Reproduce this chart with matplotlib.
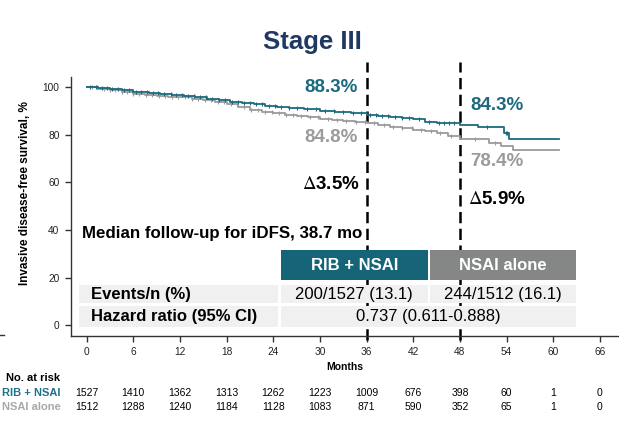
import numpy as np
import matplotlib
matplotlib.use('Agg')
import matplotlib.pyplot as plt
from matplotlib.patches import Rectangle
from matplotlib.transforms import blended_transform_factory
from matplotlib.lines import Line2D

# KM curves (months, iDFS %)
rib_t = [0, 1.5, 3, 4.5, 6, 8, 9.5, 11, 12.5, 14, 15.5, 17, 18.5, 20, 21.5, 23, 24.5, 26, 28,
         30, 32, 34, 36, 37.5, 39, 40.5, 42, 43.5, 45, 46.5, 48, 50.3, 53.7, 54.3, 60.7]
rib_s = [100, 99.6, 99.1, 98.7, 98.1, 97.5, 97.1, 96.8, 96.3, 95.8, 95.2, 94.7, 94.0, 93.3, 92.8,
         92.2, 91.7, 91.2, 90.8, 90.0, 89.6, 89.0, 88.3, 87.9, 87.4, 87.0, 86.5, 85.6, 85.0, 84.8,
         84.3, 83.2, 80.9, 78.3, 78.3]
nsai_t = [0, 1.5, 3, 4.5, 6, 7.5, 9, 10.5, 12, 13.5, 15, 16.5, 18, 19.5, 21, 22.5, 24, 25.5, 27,
          28.5, 30, 31.5, 33, 34.5, 36, 37.5, 39, 40.5, 42, 43.5, 45, 46.5, 48, 51.8, 53.3, 54.8, 60.7]
nsai_s = [100, 99.3, 98.8, 98.1, 97.3, 96.8, 96.4, 96.1, 95.7, 95.2, 94.7, 94.0, 93.0, 91.6, 90.5,
          89.6, 89.1, 88.5, 88.0, 87.5, 86.8, 86.2, 85.7, 85.2, 84.8, 84.0, 83.4, 82.8, 82.1, 81.5,
          80.7, 79.6, 78.4, 76.5, 75.3, 73.7, 73.7]

# censoring marks (months)
rib_cens = [0.5, 1.2, 2, 2.6, 3.3, 4, 4.8, 5.5, 6.3, 7, 7.8, 8.5, 9.2, 10, 10.8, 11.5, 12.3, 13,
            13.8, 14.6, 15.3, 16.1, 17, 17.8, 18.7, 19.5, 20.3, 21, 21.8, 22.6, 23.4, 24.2, 25,
            26, 27, 28.3, 29.5, 30.6, 31.8, 33, 34.2, 35.3, 36.5, 37.2, 38, 38.8, 39.6, 40.5,
            41.5, 42.7, 44, 45.3, 46, 46.6, 47.2, 51.5, 53.9, 54.1]
nsai_cens = [0.7, 1.4, 2.2, 3, 3.7, 4.5, 5.2, 6, 6.8, 7.6, 8.4, 9.3, 10.1, 11, 11.8, 12.7, 13.5,
             14.3, 15.2, 16, 16.9, 17.7, 18.6, 19.4, 20.3, 21.2, 22, 22.9, 23.8, 24.7, 25.6,
             26.6, 27.6, 28.7, 29.8, 31, 32.2, 33.4, 34.6, 35.8, 37, 38.2, 39.4, 40.6, 41.8,
             43, 44.3, 45.5, 46.8, 50, 52.5]

risk_months = [0, 6, 12, 18, 24, 30, 36, 42, 48, 54, 60, 66]
risk_rib = [1527, 1410, 1362, 1313, 1262, 1223, 1009, 676, 398, 60, 1, 0]
risk_nsai = [1512, 1288, 1240, 1184, 1128, 1083, 871, 590, 352, 65, 1, 0]

landmarks = [36, 48]
lm_rib = ['88.3%', '84.3%']
lm_nsai = ['84.8%', '78.4%']
lm_delta = [r'$\Delta$3.5%', r'$\Delta$5.9%']

arms = ['RIB + NSAI', 'NSAI alone']
events = ['200/1527 (13.1)', '244/1512 (16.1)']
hr_text = '0.737 (0.611-0.888)'

teal = '#1d6a7e'
teal_hdr = '#156478'
grey = '#9b9b9b'
grey_hdr = '#858786'
cell = '#f0f0f0'
navy = '#1f3864'

plt.rcParams['font.family'] = ['Liberation Sans', 'DejaVu Sans']
plt.rcParams['mathtext.fontset'] = 'stix'

fig = plt.figure(figsize=(6.19, 4.23), dpi=100)
ax = fig.add_axes([0.1139, 0.2064, 0.8861, 0.6116])
ax.set_xlim(-2.06, 68.45)
ax.set_ylim(-4.37, 104.3)


def step_val(t, s, c):
    i = np.searchsorted(t, c, side='right') - 1
    return np.array(s)[i]


for t, s, cens, col in [(nsai_t, nsai_s, nsai_cens, grey), (rib_t, rib_s, rib_cens, teal)]:
    ax.step(t, s, where='post', color=col, lw=1.3, zorder=3)
    ax.plot(cens, step_val(t, s, cens), ls='none', marker='|', ms=3.5, mew=0.8,
            color=col, zorder=3)

ax.vlines(landmarks, -6.2, 110.6, colors='black', lw=1.8, linestyles=(0, (4.5, 2.2)),
          clip_on=False, zorder=2)

for m, a, b, d, ya, yb, yd in zip(landmarks, lm_rib, lm_nsai, lm_delta,
                                  [99.7, 92.4], [78.9, 68.6], [59.2, 52.9]):
    xx = m - 4.55 if m == 36 else m + 4.75
    ax.text(xx, ya, a, color=teal, fontsize=13.5, fontweight='bold',
            ha='center', va='center', zorder=4)
    ax.text(xx, yb, b, color=grey, fontsize=13.5, fontweight='bold',
            ha='center', va='center', zorder=4)
    ax.text(xx, yd, d, color='black', fontsize=13.5, fontweight='bold',
            ha='center', va='center', zorder=4)

ax.text(-0.6, 38.4, 'Median follow-up for iDFS, 38.7 mo', fontsize=12.2, fontweight='bold',
        ha='left', va='center', zorder=4)

# summary table
def cell_box(x0, x1, y0, y1, fc):
    ax.add_patch(Rectangle((x0, y0), x1 - x0, y1 - y0, facecolor=fc, edgecolor='none',
                           zorder=5, clip_on=False))

cell_box(25.0, 43.85, 19.0, 31.6, teal_hdr)
cell_box(44.15, 62.9, 19.0, 31.6, grey_hdr)
ax.text((25.0 + 43.85) / 2, 25.3, arms[0], color='white', fontsize=12, fontweight='bold',
        ha='center', va='center', zorder=6)
ax.text((44.15 + 62.9) / 2, 25.3, arms[1], color='white', fontsize=12, fontweight='bold',
        ha='center', va='center', zorder=6)
cell_box(-0.96, 24.61, 9.2, 16.9, cell)
cell_box(25.0, 43.85, 9.2, 16.9, cell)
cell_box(44.15, 62.9, 9.2, 16.9, cell)
cell_box(-0.96, 24.61, -0.6, 8.1, cell)
cell_box(25.0, 62.9, -0.6, 8.1, cell)
ax.text(0.6, 13.05, 'Events/n (%)', fontsize=12, fontweight='bold', ha='left', va='center',
        zorder=6)
ax.text(0.6, 3.75, 'Hazard ratio (95% CI)', fontsize=12, fontweight='bold', ha='left',
        va='center', zorder=6)
ax.text((25.0 + 43.85) / 2, 13.05, events[0], fontsize=12, ha='center', va='center', zorder=6)
ax.text((44.15 + 62.9) / 2, 13.05, events[1], fontsize=12, ha='center', va='center', zorder=6)
ax.text((25.0 + 62.9) / 2, 3.75, hr_text, fontsize=12, ha='center', va='center', zorder=6)

ax.spines['top'].set_visible(False)
ax.spines['right'].set_visible(False)
for sp in ['left', 'bottom']:
    ax.spines[sp].set_color('#333333')
    ax.spines[sp].set_linewidth(1.0)
ax.set_xticks(risk_months)
ax.set_yticks([0, 20, 40, 60, 80, 100])
ax.tick_params(colors='#333333', length=4.5, width=1.0, labelsize=7.3, labelcolor='#222222')

fig.text(25 / 619, 1 - 193 / 423, 'Invasive disease-free survival, %', rotation=90,
         fontsize=8.5, fontweight='bold', ha='center', va='center')
fig.text(344.7 / 619, 1 - 367 / 423, 'Months', fontsize=7.5, fontweight='bold',
         ha='center', va='center')
fig.text(0.505, 1 - 42 / 423, 'Stage III', fontsize=18.5, fontweight='bold',
         color=navy, ha='center', va='center')

# number at risk
tr = blended_transform_factory(ax.transData, fig.transFigure)
fig.text(60.5 / 619, 1 - 378.3 / 423, 'No. at risk', fontsize=8, fontweight='bold',
         ha='right', va='center')
fig.text(60.5 / 619, 1 - 392.7 / 423, arms[0], fontsize=8, fontweight='bold', color='#1f7189',
         ha='right', va='center')
fig.text(60.5 / 619, 1 - 407.3 / 423, arms[1], fontsize=8, fontweight='bold', color='#a8a8a8',
         ha='right', va='center')
for m, a, b in zip(risk_months, risk_rib, risk_nsai):
    ax.text(m, 1 - 392.7 / 423, str(a), transform=tr, fontsize=7.5, ha='center', va='center')
    ax.text(m, 1 - 407.3 / 423, str(b), transform=tr, fontsize=7.5, ha='center', va='center')

fig.add_artist(Line2D([0, 4 / 619], [1 - 335 / 423] * 2, color='#333333', lw=1.0))

fig.savefig('out.png', dpi=100)
